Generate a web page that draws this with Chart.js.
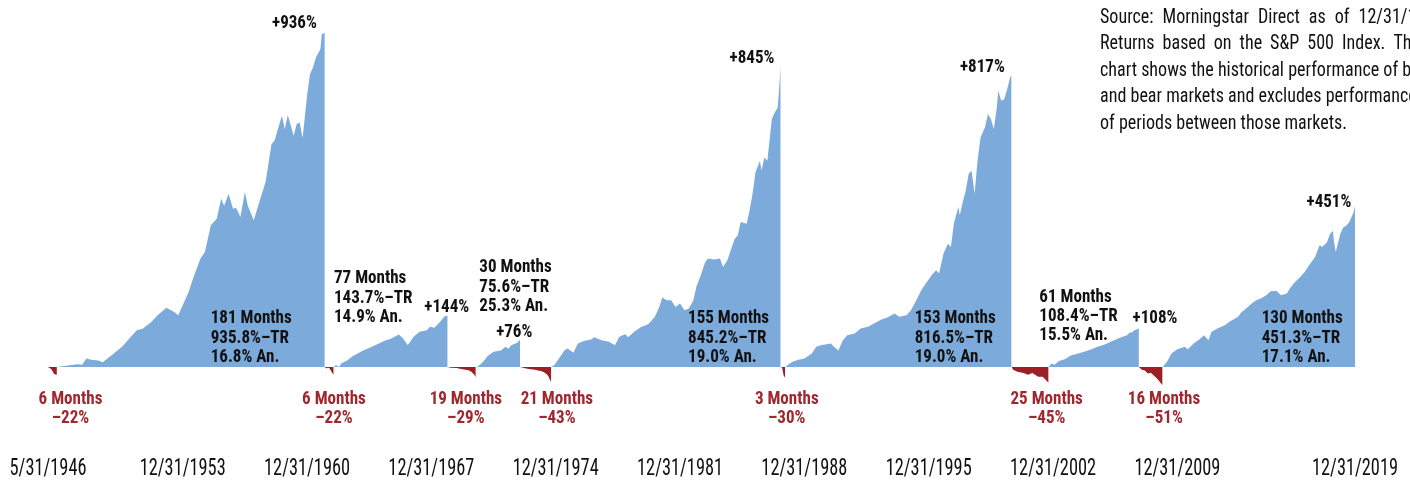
<!DOCTYPE html>
<html>
<head>
<meta charset="utf-8">
<script src="https://cdn.jsdelivr.net/npm/chart.js@4.4.1/dist/chart.umd.min.js"></script>
<style>
html,body{margin:0;padding:0;background:#ffffff;}
#wrap{width:1410px;height:480px;position:relative;overflow:hidden;}
canvas{display:block;}
</style>
</head>
<body>
<div id="wrap"><canvas id="c" width="1410" height="480"></canvas></div>
<script>
// ---------------- DATA ----------------
// x axis: months elapsed since 5/31/1946 (monthly S&P 500 total return data)
const tickMonths = [0, 91, 175, 259, 343, 427, 511, 595, 679, 763, 883];
const tickLabels = ['5/31/1946','12/31/1953','12/31/1960','12/31/1967','12/31/1974','12/31/1981','12/31/1988','12/31/1995','12/31/2002','12/31/2009','12/31/2019'];

// market periods in chronological order
const periodKinds   = ['bear','bull','bear','bull','bear','bull','bear','bull','bear','bull','bear','bull','bear','bull'];
const periodMonths  = [6, 181, 6, 77, 19, 30, 21, 155, 3, 153, 25, 61, 16, 130];
const periodReturns = [-22, 936, -22, 144, -29, 76, -43, 845, -30, 817, -45, 108, -51, 451];

// bull market statistics
const bullMonths   = [181, 77, 30, 155, 153, 61, 130];
const bullTotalRet = [935.8, 143.7, 75.6, 845.2, 816.5, 108.4, 451.3];
const bullAnnRet   = [16.8, 14.9, 25.3, 19.0, 19.0, 15.5, 17.1];

// cumulative return paths: [month within period, cumulative % return]
const bear1946 = [[0,0],[1,-3],[2,-5],[3,-11],[4,-19],[5,-21],[6,-22]];
const bull1946 = [[0,0],[5,3],[14,8],[17,6],[20,24],[23,20],[28,18],[31,13],[37,33],[44,57],[50,85],[54,103],[58,107],[64,127],[68,145],[74,166],[79,155],[82,145],[85,173],[89,210],[92,248],[97,304],[100,322],[102,359],[104,397],[108,415],[111,471],[113,452],[116,485],[119,443],[121,446],[124,420],[127,490],[129,452],[133,411],[136,452],[141,518],[145,625],[147,634],[150,676],[152,704],[154,667],[156,706],[160,648],[162,681],[164,685],[166,641],[169,760],[171,820],[173,839],[175,867],[178,890],[179,932],[181,936]];
const bear1962 = [[0,0],[1,-4],[2,-2],[3,-3],[4,-9],[5,-17],[6,-22]];
const bull1962 = [[0,0],[1,4],[2,5],[3,1],[4,2],[5,10],[9,18],[13,31],[20,46],[27,59],[34,73],[39,80],[44,91],[47,80],[50,61],[54,85],[58,99],[63,103],[65,113],[68,110],[72,127],[75,142],[77,144]];
const bear1968 = [[0,0],[2,-2],[6,-3],[10,-6],[14,-9],[16,-13],[18,-22],[19,-29]];
const bull1970 = [[0,0],[1,1],[3,7],[5,15],[8,31],[12,43],[14,44],[17,46],[20,57],[22,51],[24,61],[28,68],[29,72],[30,76]];
const bear1973 = [[0,0],[2,-2],[4,-4],[7,-6],[10,-8],[12,-10],[14,-11],[16,-15],[18,-20],[19,-26],[20,-35],[21,-43]];
const bull1974 = [[0,0],[2,5],[6,29],[9,47],[11,52],[15,40],[18,66],[22,73],[27,77],[29,83],[34,75],[39,71],[43,61],[46,85],[50,92],[52,83],[56,99],[61,113],[64,117],[66,122],[70,141],[73,168],[75,195],[78,187],[81,187],[84,168],[87,178],[90,159],[93,164],[96,187],[98,224],[101,257],[104,294],[106,304],[110,301],[114,304],[116,280],[119,299],[122,336],[124,359],[126,369],[128,406],[132,401],[134,439],[136,485],[138,546],[141,578],[142,550],[144,587],[146,578],[149,695],[151,713],[153,727],[154,783],[155,845]];
const bear1987 = [[0,0],[1,-2],[2,-24],[3,-30]];
const bull1987 = [[0,0],[2,6],[5,15],[9,20],[13,24],[18,38],[21,57],[24,61],[28,64],[31,66],[33,57],[36,46],[39,75],[42,89],[47,94],[51,108],[56,113],[60,122],[65,133],[69,139],[74,150],[77,141],[82,145],[85,159],[88,182],[92,215],[95,234],[99,257],[102,271],[104,262],[107,318],[110,345],[112,336],[114,401],[117,448],[118,425],[120,462],[122,494],[124,541],[126,550],[128,485],[130,578],[132,643],[135,671],[137,709],[139,695],[141,667],[143,727],[144,774],[146,746],[148,750],[150,778],[152,811],[153,817]];
const bear2000 = [[0,0],[1,-8],[4,-13],[8,-17],[11,-22],[14,-17],[18,-27],[21,-27],[23,-36],[24,-40],[25,-45]];
const bull2002 = [[0,0],[2,10],[4,6],[7,17],[11,22],[15,32],[20,38],[24,43],[29,50],[33,57],[38,63],[42,71],[47,80],[50,85],[53,89],[55,97],[56,96],[58,103],[61,108]];
const bear2007 = [[0,0],[2,-8],[4,-10],[6,-18],[8,-16],[11,-27],[13,-36],[15,-46],[16,-51]];
const bull2009 = [[0,0],[3,15],[6,38],[10,50],[15,57],[17,50],[21,66],[25,78],[28,89],[31,75],[33,98],[37,108],[42,117],[46,129],[51,141],[53,152],[57,166],[60,177],[63,186],[67,193],[70,201],[73,212],[77,213],[80,201],[84,206],[86,220],[89,236],[93,252],[96,266],[99,285],[103,308],[106,340],[108,337],[111,349],[113,372],[115,381],[116,345],[117,322],[120,372],[122,391],[124,396],[126,405],[129,433],[130,451]];

const periodPaths = [bear1946, bull1946, bear1962, bull1962, bear1968, bull1970, bear1973, bull1974, bear1987, bull1987, bear2000, bull2002, bear2007, bull2009];

const sourceLines = [
  'Source: Morningstar Direct as of 12/31/19.',
  'Returns based on the S&P 500 Index. This',
  'chart shows the historical performance of bull',
  'and bear markets and excludes performance',
  'of periods between those markets.'
];

// ---------------- PRESENTATION ----------------
const BLUE = '#7BAADB';
const RED_FILL = '#9B1F25';
const RED_TEXT = '#A0272D';
const INK = '#111111';

// label anchor positions (x in axis months, y baselines in px)
const peakLabelMonths = [166.5, 269.4, 315, 475.6, 631.3, 747.9, 865.4];
const peakLabelBase   = [28.3, 311.7, 336.7, 63.3, 71.7, 323.3, 206.7];
const statLabelMonths = [109.9, 193.2, 291.4, 432.4, 585.5, 669.7, 820];
const statLabelBase   = [323.3, 283.3, 272.3, 323.3, 323.3, 301.7, 323.3];
const bearLabelMonths = [15.2, 193.2, 282.3, 343.8, 499.1, 674.7, 754];

const FF = '"Roboto Condensed", "Liberation Sans Narrow", "Liberation Sans", Arial, sans-serif';
const F_TICK = '23px ' + FF;
const F_BOLD = 'bold 18.5px ' + FF;
const F_SRC  = '21px ' + FF;

const mctx = document.createElement('canvas').getContext('2d');
function calib(font, text, target) { mctx.font = font; return target / mctx.measureText(text).width; }
const SX_TICK = calib(F_TICK, '12/31/1953', 86);
const SX_BOLD = calib(F_BOLD, '181 Months', 81);
const SX_SRC  = calib(F_SRC, 'of periods between those markets.', 247);

function txt(ctx, s, x, y, font, sx, color, align) {
  ctx.save();
  ctx.font = font; ctx.fillStyle = color; ctx.textBaseline = 'alphabetic'; ctx.textAlign = 'left';
  const w = ctx.measureText(s).width * sx;
  const x0 = align === 'center' ? x - w / 2 : (align === 'right' ? x - w : x);
  ctx.translate(x0, y); ctx.scale(sx, 1); ctx.fillText(s, 0, 0);
  ctx.restore();
  return w;
}

// build datasets from the arrays
const periodStarts = [];
periodMonths.reduce((acc, m) => { periodStarts.push(acc); return acc + m; }, 0);
const datasets = periodPaths.map((path, i) => ({
  label: periodKinds[i],
  data: path.map(p => ({ x: periodStarts[i] + p[0], y: p[1] })),
  fill: 'origin',
  backgroundColor: periodKinds[i] === 'bull' ? BLUE : RED_FILL,
  borderColor: periodKinds[i] === 'bull' ? BLUE : RED_FILL,
  borderWidth: 0,
  pointRadius: 0,
  tension: 0
}));

const labelPlugin = {
  id: 'labels',
  afterDraw(chart) {
    const ctx = chart.ctx;
    const xs = chart.scales.x;
    // x tick labels
    tickMonths.forEach((m, i) => txt(ctx, tickLabels[i], xs.getPixelForValue(m), 475, F_TICK, SX_TICK, INK, 'center'));
    // bull & bear labels
    let bi = 0, be = 0;
    periodKinds.forEach((k, i) => {
      if (k === 'bull') {
        txt(ctx, '+' + periodReturns[i] + '%', xs.getPixelForValue(peakLabelMonths[bi]), peakLabelBase[bi], F_BOLD, SX_BOLD, INK, 'center');
        const lx = xs.getPixelForValue(statLabelMonths[bi]);
        const y0 = statLabelBase[bi];
        txt(ctx, bullMonths[bi] + ' Months', lx, y0, F_BOLD, SX_BOLD, INK, 'left');
        txt(ctx, bullTotalRet[bi].toFixed(1) + '%\u2013TR', lx, y0 + 19.3, F_BOLD, SX_BOLD, INK, 'left');
        txt(ctx, bullAnnRet[bi].toFixed(1) + '% An.', lx, y0 + 38.6, F_BOLD, SX_BOLD, INK, 'left');
        bi++;
      } else {
        const cx = xs.getPixelForValue(bearLabelMonths[be]);
        txt(ctx, periodMonths[i] + ' Months', cx, 404, F_BOLD, SX_BOLD, RED_TEXT, 'center');
        txt(ctx, '\u2013' + Math.abs(periodReturns[i]) + '%', cx, 423.3, F_BOLD, SX_BOLD, RED_TEXT, 'center');
        be++;
      }
    });
    // source note (first two lines justified)
    const gaps = [9, 8, null, null, null];
    sourceLines.forEach((line, li) => {
      const y = 22.5 + li * 26.5;
      if (gaps[li] == null) { txt(ctx, line, 1100, y, F_SRC, SX_SRC, INK, 'left'); return; }
      let x = 1100;
      line.split(' ').forEach(w => { x += txt(ctx, w, x, y, F_SRC, SX_SRC, INK, 'left') + gaps[li]; });
    });
  }
};

const PXPP = 0.357;            // pixels per percentage point
const Y_MIN = -60, Y_MAX = 960;
const BASE_Y = 367;
new Chart(document.getElementById('c').getContext('2d'), {
  type: 'line',
  data: { datasets },
  options: {
    responsive: false,
    animation: false,
    events: [],
    layout: { padding: { left: 48, right: 55, top: BASE_Y - Y_MAX * PXPP, bottom: 480 - (BASE_Y - Y_MIN * PXPP) } },
    scales: {
      x: { type: 'linear', min: 0, max: 883, display: false },
      y: { type: 'linear', min: Y_MIN, max: Y_MAX, display: false }
    },
    plugins: { legend: { display: false }, tooltip: { enabled: false } }
  },
  plugins: [labelPlugin]
});
</script>
</body>
</html>
